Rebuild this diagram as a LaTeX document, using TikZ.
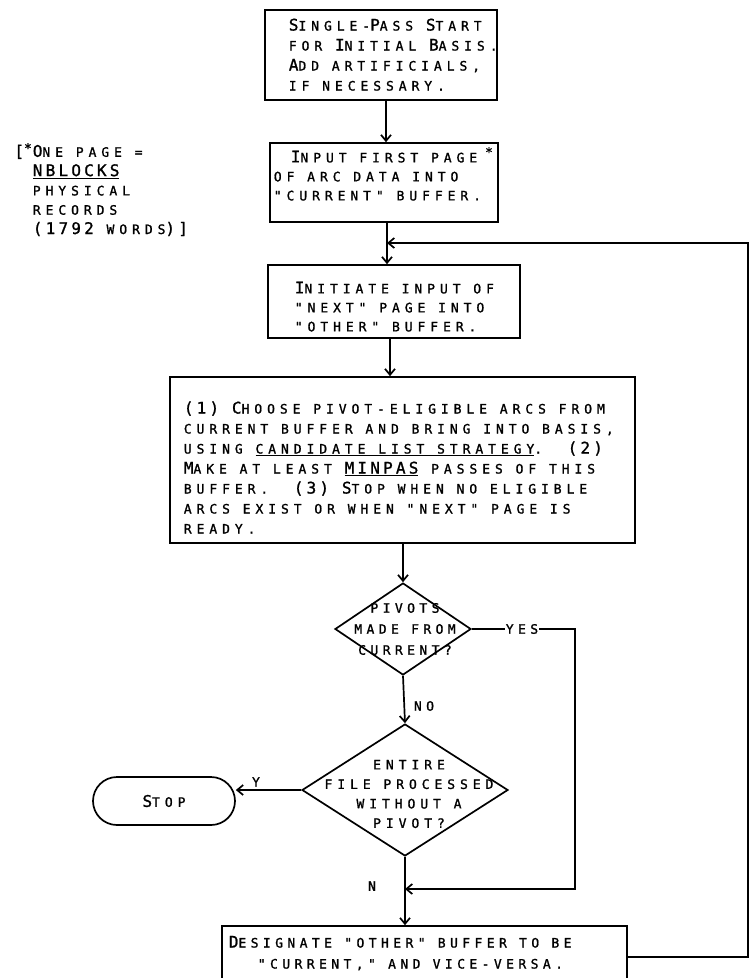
\documentclass[tikz,border=0pt]{standalone}
\usepackage{fontspec}
\setmainfont{DejaVu Sans Mono}
\newfontfamily\tw{DejaVu Sans Mono}[LetterSpace=38,FakeBold=1.2]
\newfontfamily\twn{DejaVu Sans Mono}[LetterSpace=34,FakeBold=1.2]
\newfontfamily\twb{DejaVu Sans Mono}[LetterSpace=20,FakeBold=1.2]
\newcommand\K[1]{{\twb\fontsize{16}{16}\selectfont #1}}
\usetikzlibrary{arrows.meta,shapes.geometric}
\begin{document}
\begin{tikzpicture}[x=1pt,y=-1pt,line width=1.7pt,
  box/.style 2 args={draw,rectangle,inner sep=0pt,minimum width=#1,minimum height=#2},
  dia/.style 2 args={draw,diamond,inner sep=0pt,minimum width=#1,minimum height=#2},
  txt/.style={anchor=north west,inner sep=0pt,align=left,font=\tw\fontsize{13}{20}\selectfont},
  ctxt/.style={anchor=center,inner sep=0pt,align=center,font=\twn\fontsize{13}{21}\selectfont},
  lbl/.style={inner sep=1pt,font=\twn\fontsize{13}{15}\selectfont},
  arr/.style={-{Straight Barb[length=6pt,width=10pt]}}]
\useasboundingbox (0,0) rectangle (751,978);
\fill[white] (0,0) rectangle (751,978);

% boxes
\node[box={232}{90}] (b1) at (381,55) {};
\node[txt] (t1) at (288,15.7) {\strut\K{S}INGLE-\K{P}ASS \K{S}TART\\FOR \K{I}NITIAL \K{B}ASIS.\\\K{A}DD ARTIFICIALS,\\IF NECESSARY.};

\node[box={228}{79}] (b2) at (384,182.5) {};
\node[txt,font=\tw\fontsize{13}{19}\selectfont] (t2) at (273,148.2) {\strut\hspace{17pt}\K{I}NPUT FIRST PAGE\\OF ARC DATA INTO\\"CURRENT" BUFFER.};
\node[lbl] (ast) at (489,152) {*};

\node[box={252}{73}] (b3) at (394,301.5) {};
\node[txt,font=\tw\fontsize{13}{19}\selectfont] (t3) at (294,279.2) {\strut\K{I}NITIATE INPUT OF\\"NEXT" PAGE INTO\\"OTHER" BUFFER.};

\node[box={465}{166}] (b4) at (402.5,460) {};
\node[txt] (t4) at (183,398.7) {\strut\K{(1) C}HOOSE PIVOT-ELIGIBLE ARCS FROM\\CURRENT BUFFER AND BRING INTO BASIS,\\USING \underline{CANDIDATE LIST STRATEGY}.\ \ \K{(2)}\\\K{M}AKE AT LEAST \underline{\K{MINPAS}} PASSES OF THIS\\BUFFER.\ \ \K{(3) S}TOP WHEN NO ELIGIBLE\\ARCS EXIST OR WHEN "NEXT" PAGE IS\\READY.};

\node[dia={136}{92}] (d1) at (403,629) {};
\node[ctxt] (t5) at (405,629) {PIVOTS\\MADE FROM\\CURRENT?};

\node[dia={206}{132}] (d2) at (405,790) {};
\node[ctxt,font=\tw\fontsize{13}{19.5}\selectfont] (t6) at (409,794) {ENTIRE\\FILE PROCESSED\\WITHOUT A\\PIVOT?};

\node[draw,rounded corners=24pt,minimum width=142,minimum height=48,inner sep=0pt,font=\tw\fontsize{13}{15}\selectfont] (stop) at (164,801) {\K{S}TOP};

\node[box={405}{62}] (b5) at (424.5,957) {};
\node[txt,font=\twn\fontsize{13}{21}\selectfont] (t7) at (228,932) {\strut\K{D}ESIGNATE "OTHER" BUFFER TO BE\\\hspace{29pt}"CURRENT," AND VICE-VERSA.};

% note
\node[txt,font=\tw\fontsize{13}{19.3}\selectfont] (note) at (32,142.3) {\strut\llap{\K{[}\raisebox{4pt}{*}\hspace{1pt}}\K{O}NE PAGE =\\\underline{\K{NBLOCKS}}\\PHYSICAL\\RECORDS\\\K{(1792} WORDS\K{)]}};

% connectors
\coordinate (a1) at (386,0);
\coordinate (a2) at (387,0);
\coordinate (a3) at (390,0);
\draw[arr] (b1.south -| a1) -- (b2.north -| a1);
\draw[arr] (b2.south -| a2) -- (b3.north -| a2);
\draw[arr] (b3.south -| a3) -- (b4.north -| a3);
\draw[arr] (b4.south -| d1.north) -- (d1.north);
\draw[arr] (d1.south) -- (d2.north);
\draw[arr] (d2.south) -- (d2.south |- b5.north);
\draw[arr] (d2.west) -- (d2.west -| stop.east);

\coordinate (yr) at (575,0);
\coordinate (mg) at (0,889);
\draw[arr] (d1.east) -- (d1.east -| yr) -- (yr |- mg) -- (mg -| d2.south);

\coordinate (rr) at (748,0);
\coordinate (fb) at (0,243);
\draw[arr] (b5.east) -- (b5.east -| rr) -- (rr |- fb) -- (fb -| a2);

% labels
\node[lbl,fill=white] (yes) at (522,629) {YES};
\node[lbl] (no) at (424,706) {NO};
\node[lbl] (ylbl) at (256,782) {Y};
\node[lbl] (nlbl) at (372,886) {N};
\end{tikzpicture}
\end{document}
